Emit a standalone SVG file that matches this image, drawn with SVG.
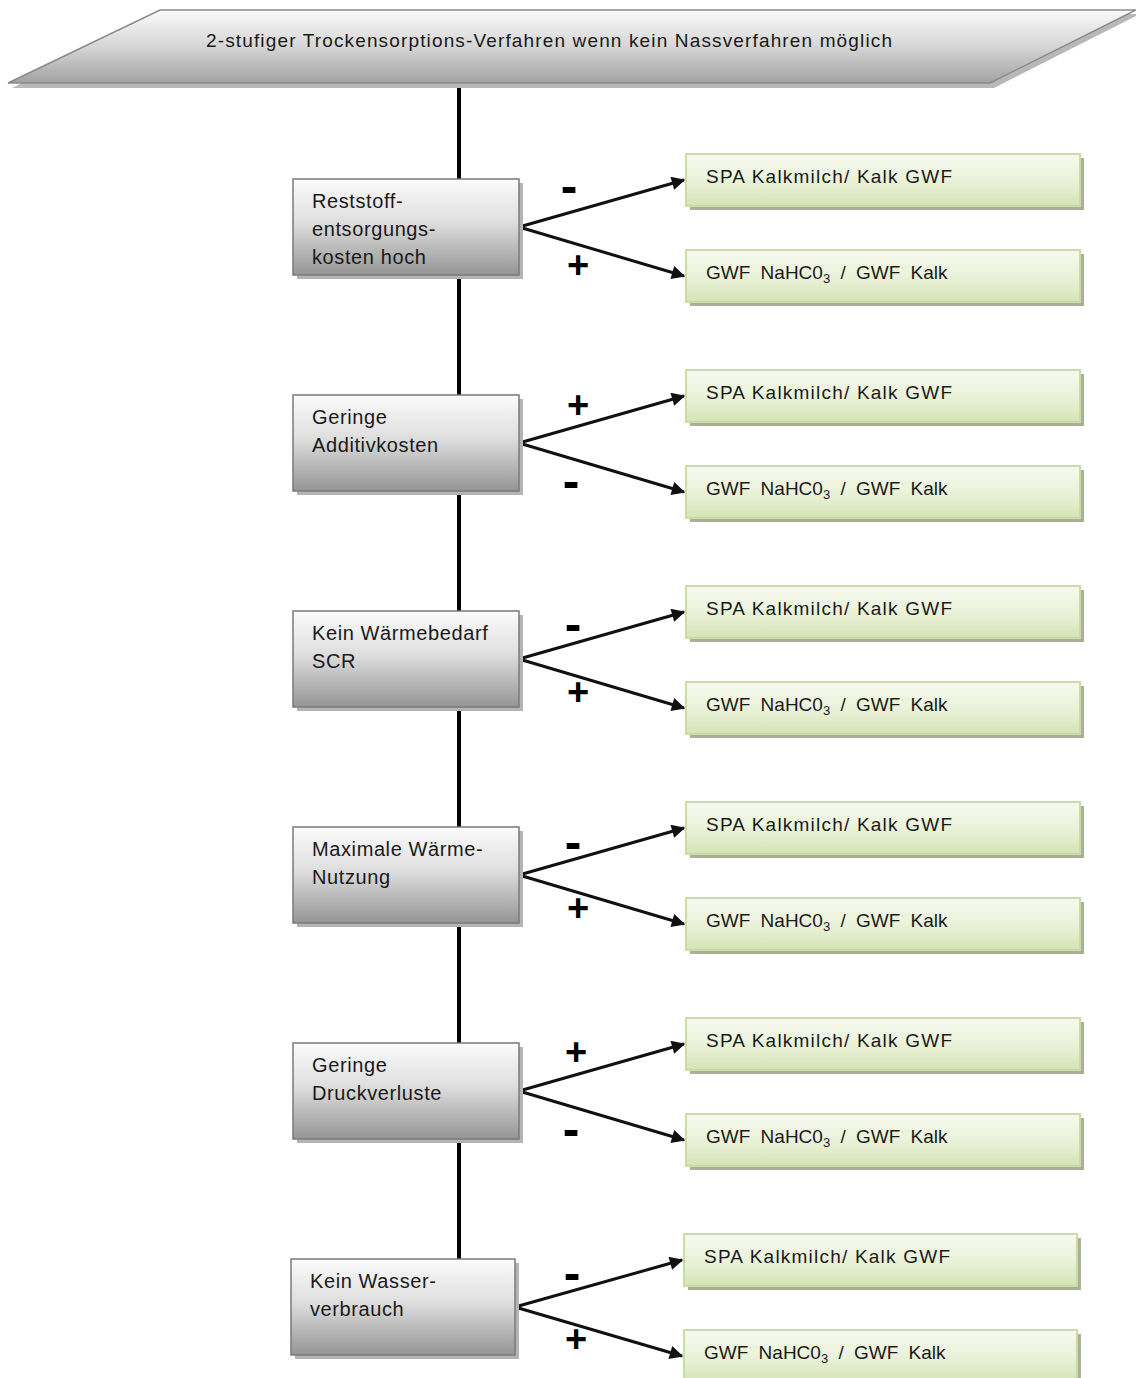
<svg xmlns="http://www.w3.org/2000/svg" width="1136" height="1378" viewBox="0 0 1136 1378">
<defs>
<linearGradient id="gGray" x1="0" y1="0" x2="0" y2="1">
<stop offset="0" stop-color="#fbfbfb"/>
<stop offset="0.45" stop-color="#dedede"/>
<stop offset="1" stop-color="#959595"/>
</linearGradient>
<linearGradient id="gTop" x1="0" y1="0" x2="0" y2="1">
<stop offset="0" stop-color="#fafafa"/>
<stop offset="0.5" stop-color="#d6d6d6"/>
<stop offset="1" stop-color="#a2a2a2"/>
</linearGradient>
<linearGradient id="gGreen" x1="0" y1="0" x2="0" y2="1">
<stop offset="0" stop-color="#f6f9ee"/>
<stop offset="0.5" stop-color="#ebf2da"/>
<stop offset="1" stop-color="#d5e4b5"/>
</linearGradient>
<marker id="ah" viewBox="0 0 10 10" refX="9" refY="5" markerWidth="5" markerHeight="4.5" orient="auto" markerUnits="strokeWidth">
<path d="M0,0 L10,5 L0,10 z" fill="#111"/>
</marker>
</defs>
<style>
text{font-family:"Liberation Sans",Arial,sans-serif;fill:#1a1a1a;}
.t{font-size:20px;letter-spacing:0.6px;}
.r{font-size:19px;}
.sg{fill:#b4b4b4;}
.bg{fill:url(#gGray);stroke:#7a7a7a;stroke-width:1.5;}
.sgr{fill:#a9b095;}
.bgr{fill:url(#gGreen);stroke:#c9dca5;stroke-width:2;}
.arr{stroke:#111;stroke-width:3;fill:none;marker-end:url(#ah);}
.vl{stroke:#000;stroke-width:4;fill:none;}
.sym{font-size:38px;font-weight:bold;fill:#000;text-anchor:middle;}
.mn{font-size:50px;font-weight:bold;fill:#000;text-anchor:middle;}
</style>
<g id="connectors">
<line class="vl" x1="459" y1="84" x2="459" y2="1260"/>
<path class="arr" d="M519,227 L684,180"/><path class="arr" d="M519,227 L684,276"/>
<path class="arr" d="M519,443 L684,396"/><path class="arr" d="M519,443 L684,492"/>
<path class="arr" d="M519,659 L684,612"/><path class="arr" d="M519,659 L684,708"/>
<path class="arr" d="M519,875 L684,828"/><path class="arr" d="M519,875 L684,924"/>
<path class="arr" d="M519,1091 L684,1044"/><path class="arr" d="M519,1091 L684,1140"/>
<path class="arr" d="M515,1307 L682,1260"/><path class="arr" d="M515,1307 L682,1356"/>
</g>
<g id="labels">
<text class="mn" x="569" y="203">-</text><text class="sym" x="578" y="278">+</text>
<text class="sym" x="578" y="418">+</text><text class="mn" x="571" y="498">-</text>
<text class="mn" x="573" y="641">-</text><text class="sym" x="578" y="705">+</text>
<text class="mn" x="573" y="859">-</text><text class="sym" x="578" y="921">+</text>
<text class="sym" x="576" y="1065">+</text><text class="mn" x="571" y="1146">-</text>
<text class="mn" x="572" y="1290">-</text><text class="sym" x="576" y="1352">+</text>
</g>
<g id="top">
<polygon points="164,14 1140,14 994,88 12,88" fill="#b8b8b8"/>
<polygon points="160,10 1136,10 990,83 8,83" fill="url(#gTop)" stroke="#8a8a8a" stroke-width="1.5"/>
<text x="206" y="47" textLength="686" lengthAdjust="spacing" style="font-size:19px">2-stufiger Trockensorptions-Verfahren wenn kein Nassverfahren möglich</text>
</g>
<g id="n1">
<rect class="sg" x="297" y="183" width="226" height="96"/>
<rect class="bg" x="293" y="179" width="226" height="96"/>
<text class="t" x="312" y="208">Reststoff-</text>
<text class="t" x="312" y="236">entsorgungs-</text>
<text class="t" x="312" y="264">kosten hoch</text>
</g>
<g id="n2">
<rect class="sg" x="297" y="399" width="226" height="96"/>
<rect class="bg" x="293" y="395" width="226" height="96"/>
<text class="t" x="312" y="424">Geringe</text>
<text class="t" x="312" y="452">Additivkosten</text>
</g>
<g id="n3">
<rect class="sg" x="297" y="615" width="226" height="96"/>
<rect class="bg" x="293" y="611" width="226" height="96"/>
<text class="t" x="312" y="640">Kein Wärmebedarf</text>
<text class="t" x="312" y="668">SCR</text>
</g>
<g id="n4">
<rect class="sg" x="297" y="831" width="226" height="96"/>
<rect class="bg" x="293" y="827" width="226" height="96"/>
<text class="t" x="312" y="856">Maximale Wärme-</text>
<text class="t" x="312" y="884">Nutzung</text>
</g>
<g id="n5">
<rect class="sg" x="297" y="1047" width="226" height="96"/>
<rect class="bg" x="293" y="1043" width="226" height="96"/>
<text class="t" x="312" y="1072">Geringe</text>
<text class="t" x="312" y="1100">Druckverluste</text>
</g>
<g id="n6">
<rect class="sg" x="295" y="1263" width="224" height="96"/>
<rect class="bg" x="291" y="1259" width="224" height="96"/>
<text class="t" x="310" y="1288">Kein Wasser-</text>
<text class="t" x="310" y="1316">verbrauch</text>
</g>
<g id="r1a"><rect class="sgr" x="690" y="158" width="394" height="52"/><rect class="bgr" x="686" y="154" width="394" height="52"/><text class="r" x="706" y="183" textLength="246">SPA Kalkmilch/ Kalk GWF</text></g>
<g id="r1b"><rect class="sgr" x="690" y="254" width="394" height="52"/><rect class="bgr" x="686" y="250" width="394" height="52"/><text class="r" x="706" y="279" word-spacing="5">GWF  NaHC0<tspan font-size="13" dy="4">3</tspan><tspan dy="-4"> / GWF  Kalk</tspan></text></g>
<g id="r2a"><rect class="sgr" x="690" y="374" width="394" height="52"/><rect class="bgr" x="686" y="370" width="394" height="52"/><text class="r" x="706" y="399" textLength="246">SPA Kalkmilch/ Kalk GWF</text></g>
<g id="r2b"><rect class="sgr" x="690" y="470" width="394" height="52"/><rect class="bgr" x="686" y="466" width="394" height="52"/><text class="r" x="706" y="495" word-spacing="5">GWF  NaHC0<tspan font-size="13" dy="4">3</tspan><tspan dy="-4"> / GWF  Kalk</tspan></text></g>
<g id="r3a"><rect class="sgr" x="690" y="590" width="394" height="52"/><rect class="bgr" x="686" y="586" width="394" height="52"/><text class="r" x="706" y="615" textLength="246">SPA Kalkmilch/ Kalk GWF</text></g>
<g id="r3b"><rect class="sgr" x="690" y="686" width="394" height="52"/><rect class="bgr" x="686" y="682" width="394" height="52"/><text class="r" x="706" y="711" word-spacing="5">GWF  NaHC0<tspan font-size="13" dy="4">3</tspan><tspan dy="-4"> / GWF  Kalk</tspan></text></g>
<g id="r4a"><rect class="sgr" x="690" y="806" width="394" height="52"/><rect class="bgr" x="686" y="802" width="394" height="52"/><text class="r" x="706" y="831" textLength="246">SPA Kalkmilch/ Kalk GWF</text></g>
<g id="r4b"><rect class="sgr" x="690" y="902" width="394" height="52"/><rect class="bgr" x="686" y="898" width="394" height="52"/><text class="r" x="706" y="927" word-spacing="5">GWF  NaHC0<tspan font-size="13" dy="4">3</tspan><tspan dy="-4"> / GWF  Kalk</tspan></text></g>
<g id="r5a"><rect class="sgr" x="690" y="1022" width="394" height="52"/><rect class="bgr" x="686" y="1018" width="394" height="52"/><text class="r" x="706" y="1047" textLength="246">SPA Kalkmilch/ Kalk GWF</text></g>
<g id="r5b"><rect class="sgr" x="690" y="1118" width="394" height="52"/><rect class="bgr" x="686" y="1114" width="394" height="52"/><text class="r" x="706" y="1143" word-spacing="5">GWF  NaHC0<tspan font-size="13" dy="4">3</tspan><tspan dy="-4"> / GWF  Kalk</tspan></text></g>
<g id="r6a"><rect class="sgr" x="688" y="1238" width="393" height="52"/><rect class="bgr" x="684" y="1234" width="393" height="52"/><text class="r" x="704" y="1263" textLength="246">SPA Kalkmilch/ Kalk GWF</text></g>
<g id="r6b"><rect class="sgr" x="688" y="1334" width="393" height="52"/><rect class="bgr" x="684" y="1330" width="393" height="52"/><text class="r" x="704" y="1359" word-spacing="5">GWF  NaHC0<tspan font-size="13" dy="4">3</tspan><tspan dy="-4"> / GWF  Kalk</tspan></text></g>
</svg>
